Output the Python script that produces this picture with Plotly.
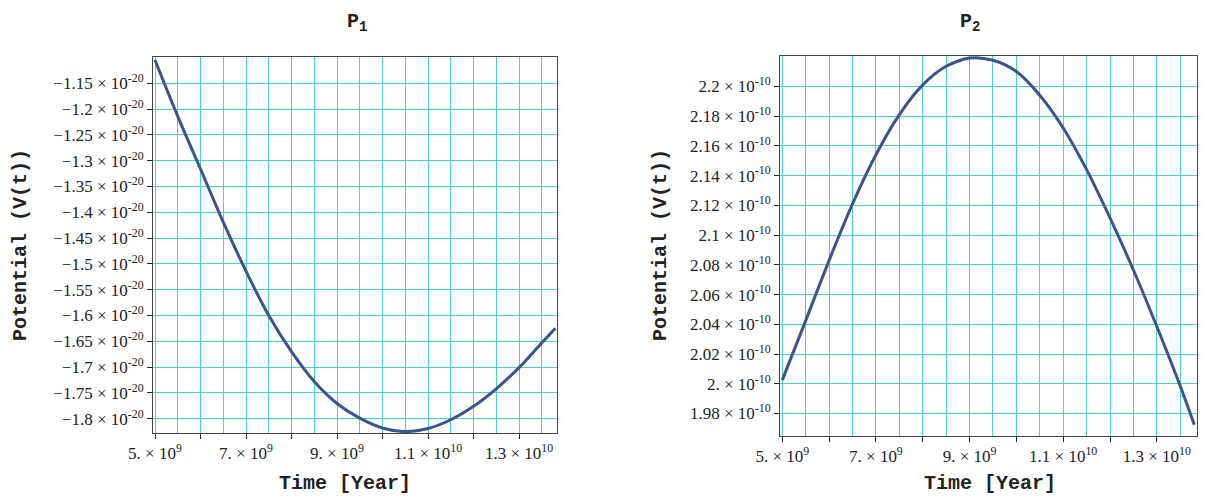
import plotly.graph_objects as go
from plotly.subplots import make_subplots

# time in years
p1_time = [5.0e9, 5.5e9, 6.0e9, 6.5e9, 7.0e9, 7.5e9, 8.0e9, 8.5e9, 9.0e9, 9.5e9,
           1.0e10, 1.05e10, 1.1e10, 1.15e10, 1.2e10, 1.25e10, 1.3e10, 1.35e10, 1.38e10]
p1_potential = [-1.1048e-20, -1.2140e-20, -1.3160e-20, -1.4190e-20, -1.5140e-20,
                -1.6000e-20, -1.6700e-20, -1.7280e-20, -1.7705e-20, -1.7990e-20,
                -1.8180e-20, -1.8250e-20, -1.8190e-20, -1.8020e-20, -1.7760e-20,
                -1.7420e-20, -1.7010e-20, -1.6530e-20, -1.6248e-20]

p2_time = [5.0e9, 5.5e9, 6.0e9, 6.5e9, 7.0e9, 7.5e9, 8.0e9, 8.5e9, 9.0e9, 9.5e9,
           1.0e10, 1.05e10, 1.1e10, 1.15e10, 1.2e10, 1.25e10, 1.3e10, 1.35e10, 1.38e10]
p2_potential = [2.0025e-10, 2.0425e-10, 2.0830e-10, 2.1210e-10, 2.1540e-10,
                2.1810e-10, 2.2010e-10, 2.2135e-10, 2.2190e-10, 2.2175e-10,
                2.2100e-10, 2.1940e-10, 2.1720e-10, 2.1440e-10, 2.1115e-10,
                2.0765e-10, 2.0385e-10, 1.9985e-10, 1.9725e-10]

x_tick_vals = [5e9, 6e9, 7e9, 8e9, 9e9, 1e10, 1.1e10, 1.2e10, 1.3e10]
x_tick_text = ["5. × 10<sup>9</sup>", "", "7. × 10<sup>9</sup>", "", "9. × 10<sup>9</sup>", "",
               "1.1 × 10<sup>10</sup>", "", "1.3 × 10<sup>10</sup>"]
x_grid_vals = [5e9, 5.5e9, 6e9, 6.5e9, 7e9, 7.5e9, 8e9, 8.5e9, 9e9, 9.5e9, 1e10,
               1.05e10, 1.1e10, 1.15e10, 1.2e10, 1.25e10, 1.3e10, 1.35e10]

p1_tick_vals = [-1.8e-20, -1.75e-20, -1.7e-20, -1.65e-20, -1.6e-20, -1.55e-20, -1.5e-20,
                -1.45e-20, -1.4e-20, -1.35e-20, -1.3e-20, -1.25e-20, -1.2e-20, -1.15e-20]
p1_tick_text = ["−1.8", "−1.75", "−1.7", "−1.65", "−1.6", "−1.55", "−1.5",
                "−1.45", "−1.4", "−1.35", "−1.3", "−1.25", "−1.2", "−1.15"]

p2_tick_vals = [1.98e-10, 2.0e-10, 2.02e-10, 2.04e-10, 2.06e-10, 2.08e-10, 2.1e-10,
                2.12e-10, 2.14e-10, 2.16e-10, 2.18e-10, 2.2e-10]
p2_tick_text = ["1.98", "2.", "2.02", "2.04", "2.06", "2.08", "2.1",
                "2.12", "2.14", "2.16", "2.18", "2.2"]

line_color = "#3c5489"
grid_color = "#4fd0cc"
frame_color = "#444444"
mono = "Liberation Mono"
serif = "Liberation Serif"

W, H = 1207, 501
OFF = 8  # page body margin


def px(x):
    return (x - OFF) / W


def py(y):
    return 1 - (y - OFF) / H


fig = make_subplots(rows=1, cols=2)
curve = dict(color=line_color, width=3, shape="spline", smoothing=0.8)
fig.add_trace(go.Scatter(x=p1_time, y=p1_potential, mode="lines", hoverinfo="skip", line=curve), 1, 1)
fig.add_trace(go.Scatter(x=p2_time, y=p2_potential, mode="lines", hoverinfo="skip", line=curve), 1, 2)
# invisible copies so the labelled tick axes get drawn
fig.add_trace(go.Scatter(x=p1_time, y=p1_potential, mode="lines", hoverinfo="skip",
                         opacity=0, line=curve, xaxis="x3", yaxis="y"))
fig.add_trace(go.Scatter(x=p2_time, y=p2_potential, mode="lines", hoverinfo="skip",
                         opacity=0, line=curve, xaxis="x4", yaxis="y2"))

# grid axes: half-step vertical grid, frame, no labels
gridx = dict(tickmode="array", tickvals=x_grid_vals, showticklabels=False, ticks="",
             showgrid=True, gridcolor=grid_color, gridwidth=1, automargin=False,
             showline=True, mirror=True, linecolor=frame_color, linewidth=1, zeroline=False)
ycommon = dict(tickmode="array", ticks="outside", ticklen=5, tickcolor="#222", tickwidth=1,
               showgrid=True, gridcolor=grid_color, gridwidth=1, automargin=False,
               showline=True, mirror=True, linecolor=frame_color, linewidth=1,
               zeroline=False, tickfont=dict(family=serif, size=17, color="#222"))
fig.update_xaxes(gridx, row=1, col=1)
fig.update_xaxes(gridx, row=1, col=2)
fig.update_yaxes(ycommon)

r1 = [4.956e9, 1.3835e10]
r2 = [4.951e9, 1.3858e10]
d1 = [px(153), px(557)]
d2 = [px(780), px(1197)]
fig.update_xaxes(domain=d1, range=r1, row=1, col=1)
fig.update_xaxes(domain=d2, range=r2, row=1, col=2)
fig.update_yaxes(domain=[py(433), py(57)], range=[-1.8277e-20, -1.099e-20],
                 tickvals=p1_tick_vals,
                 ticktext=[t + " × 10<sup>-20</sup>" for t in p1_tick_text], row=1, col=1)
fig.update_yaxes(domain=[py(436), py(56)], range=[1.9649e-10, 2.2204e-10],
                 tickvals=p2_tick_vals,
                 ticktext=[t + " × 10<sup>-10</sup>" for t in p2_tick_text], row=1, col=2)

# labelled tick axes laid over the grid axes
tickx = dict(tickmode="array", tickvals=x_tick_vals, ticktext=x_tick_text,
             ticks="outside", ticklen=5, tickcolor="#222", tickwidth=1,
             showgrid=False, showline=False, zeroline=False, automargin=False,
             side="bottom", tickfont=dict(family=serif, size=17, color="#222"))
fig.update_layout(
    xaxis3=dict(tickx, overlaying="x", anchor="y", domain=d1, range=r1),
    xaxis4=dict(tickx, overlaying="x2", anchor="y2", domain=d2, range=r2),
)

annots = [
    dict(text="<b>P<sub>1</sub></b>", x=px(357), y=1, yanchor="top"),
    dict(text="<b>P<sub>2</sub></b>", x=px(970), y=1, yanchor="top"),
    dict(text="<b>Time [Year]</b>", x=px(345), y=py(483), yanchor="middle"),
    dict(text="<b>Time [Year]</b>", x=px(990), y=py(483), yanchor="middle"),
    dict(text="<b>Potential (V(t))</b>", x=px(20), y=py(245), yanchor="middle", textangle=-90),
    dict(text="<b>Potential (V(t))</b>", x=px(660), y=py(245), yanchor="middle", textangle=-90),
]
for a in annots:
    fig.add_annotation(xref="paper", yref="paper", showarrow=False, xanchor="center",
                       font=dict(family=mono, size=20, color="#222"), **a)

fig.update_layout(width=W, height=H, showlegend=False,
                  margin=dict(l=0, r=0, t=0, b=0),
                  paper_bgcolor="white", plot_bgcolor="white")

fig.write_html("out.html")
